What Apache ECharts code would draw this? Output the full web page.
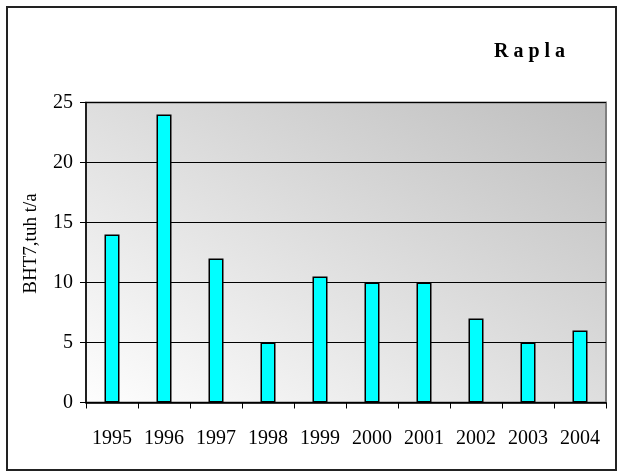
<!DOCTYPE html>
<html>
<head>
<meta charset="utf-8">
<script src="https://cdn.jsdelivr.net/npm/echarts@6/dist/echarts.min.js"></script>
<style>
  html, body { margin: 0; padding: 0; background: #fff; }
  #chart { width: 621px; height: 473px; }
</style>
</head>
<body>
<div id="chart"></div>
<script>
// Annual BHT7 load, Rapla
const years = ['1995', '1996', '1997', '1998', '1999', '2000', '2001', '2002', '2003', '2004'];
const bht7 = [14, 24, 12, 5, 10.5, 10, 10, 7, 5, 6];
const yTicks = { min: 0, max: 25, interval: 5 };

const serif = '"Liberation Serif", "Times New Roman", serif';
const chart = echarts.init(document.getElementById('chart'));

// Plot area box, used for the diagonal shading of the background
const plot = { left: 86, right: 15, top: 102.5, bottom: 70.5 };
const W = 621, H = 473;
const x0 = plot.left, x1 = W - plot.right, y0 = plot.top, y1 = H - plot.bottom;
const cx = (x0 + x1) / 2, cy = (y0 + y1) / 2;
// direction perpendicular to the top-left -> bottom-right diagonal
const dx = x1 - x0, dy = y1 - y0, len = Math.hypot(dx, dy);
const ux = dy / len, uy = -dx / len;
const half = Math.abs((x0 - cx) * ux + (y1 - cy) * uy);

chart.setOption({
  animation: false,
  backgroundColor: '#ffffff',
  title: {
    text: 'R a p l a',
    left: 489,
    top: 37,
    textStyle: { fontFamily: serif, fontSize: 20, fontWeight: 'bold', color: '#000' }
  },
  graphic: [{
    type: 'rect',
    shape: { x: 7, y: 7, width: 609, height: 463 },
    style: { fill: 'none', stroke: '#222', lineWidth: 2 },
    z: 100
  }],
  grid: {
    left: plot.left, right: plot.right, top: plot.top, bottom: plot.bottom,
    show: true,
    borderColor: '#808080',
    borderWidth: 2,
    backgroundColor: new echarts.graphic.LinearGradient(
      cx - half * ux, cy - half * uy, cx + half * ux, cy + half * uy,
      [{ offset: 0, color: '#fefefe' }, { offset: 1, color: '#bebebe' }],
      true
    )
  },
  xAxis: {
    type: 'category',
    data: years,
    axisLine: { lineStyle: { color: '#000', width: 1.5 } },
    axisTick: { show: true, length: 6, inside: false, alignWithLabel: false, lineStyle: { color: '#000' } },
    axisLabel: { interval: 0, color: '#000', fontFamily: serif, fontSize: 20, margin: 26 }
  },
  yAxis: {
    type: 'value',
    min: yTicks.min, max: yTicks.max, interval: yTicks.interval,
    name: 'BHT7,tuh t/a',
    nameLocation: 'middle',
    nameGap: 45,
    nameTextStyle: { fontFamily: serif, fontSize: 19, color: '#000', padding: [0, 0, 0, 18] },
    axisLine: { show: true, lineStyle: { color: '#000', width: 1.5 } },
    axisTick: { show: true, length: 6, lineStyle: { color: '#000' } },
    axisLabel: { color: '#000', fontFamily: serif, fontSize: 20, margin: 13 },
    splitLine: { show: true, lineStyle: { color: '#000', width: 1.2 } }
  },
  series: [{
    type: 'bar',
    data: bht7,
    barWidth: 15,
    itemStyle: { color: '#00ffff', borderColor: '#000', borderWidth: 1.5 }
  }]
});
</script>
</body>
</html>
